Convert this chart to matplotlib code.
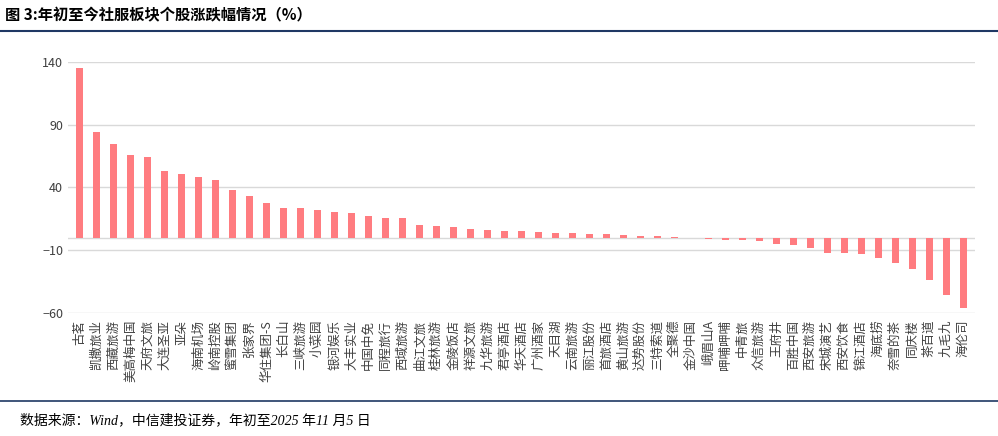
import matplotlib.pyplot as plt
import numpy as np

plt.rcParams['font.family'] = ['Noto Sans CJK SC', 'DejaVu Sans']

names = ['古茗', '凯撒旅业', '西藏旅游', '美高梅中国', '天府文旅', '大连圣亚', '亚朵', '海南机场', '岭南控股',
         '蜜雪集团', '张家界', '华住集团-S', '长白山', '三峡旅游', '小菜园', '银河娱乐', '大丰实业', '中国中免',
         '同程旅行', '西域旅游', '曲江文旅', '桂林旅游', '金陵饭店', '祥源文旅', '九华旅游', '君亭酒店', '华天酒店',
         '广州酒家', '天目湖', '云南旅游', '丽江股份', '首旅酒店', '黄山旅游', '达势股份', '三特索道', '全聚德',
         '金沙中国', '峨眉山A', '呷哺呷哺', '中青旅', '众信旅游', '王府井', '百胜中国', '西安旅游', '宋城演艺',
         '西安饮食', '锦江酒店', '海底捞', '奈雪的茶', '同庆楼', '茶百道', '九毛九', '海伦司']
values = [135, 84, 75, 66, 64, 53, 51, 48, 46, 38, 33, 28, 24, 24, 22, 20.5, 20, 17, 16, 15.5, 10, 9, 8.5, 7, 6,
          5, 5, 4.5, 4, 4, 3, 3, 2, 1.5, 1, 0.5, -0.5, -1, -1.5, -2, -2.5, -5, -6, -8, -12, -12, -13, -16, -20,
          -25, -34, -46, -56]
yticks = [140, 90, 40, -10, -60]

fig = plt.figure(figsize=(9.98, 4.36), dpi=100)
ax = fig.add_axes([0.068, 0.282, 0.909, 0.576])

x = np.arange(len(names))
ax.bar(x, values, width=0.4, color='#FF7C80', zorder=3)
ax.set_ylim(-60, 140)
ax.set_yticks(yticks)
ax.set_xlim(-0.7, len(names) - 0.3)
ax.set_xticks(x)
ax.set_xticklabels(names, rotation=90, fontsize=9, color='#404040')
ax.tick_params(axis='y', labelsize=9, colors='#404040', length=0)
ax.tick_params(axis='x', length=0, pad=5)
ax.grid(axis='y', color='#D9D9D9', linewidth=1, zorder=0)
ax.axhline(0, color='#D9D9D9', linewidth=1, zorder=1)
for s in ax.spines.values():
    s.set_visible(False)

fig.text(0.005, 0.965, '图 3:年初至今社服板块个股涨跌幅情况（%）', fontsize=11, fontweight='bold', va='center')
fig.add_artist(plt.Line2D([0, 1], [0.93, 0.93], color='#1F3864', linewidth=1.5))
fig.add_artist(plt.Line2D([0, 1], [0.08, 0.08], color='#1F3864', linewidth=1.2))
fig.text(0.02, 0.035, '数据来源：Wind，中信建投证券，年初至2025 年11 月5 日', fontsize=10, style='italic',
         va='center', family=['Liberation Serif', 'Noto Sans CJK SC'])

fig.savefig('out.png', dpi=100)
